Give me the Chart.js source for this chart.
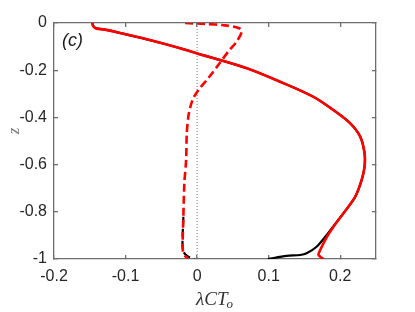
<!DOCTYPE html>
<html><head><meta charset="utf-8">
<script src="https://cdn.jsdelivr.net/npm/chart.js@4"></script>
<style>html,body{margin:0;padding:0;background:#fff}#w{width:415px;height:312px;position:relative}</style>
</head><body><div id="w"><canvas id="c"></canvas></div>
<script>
// ---- data ----
const xTicks = [-0.2, -0.1, 0, 0.1, 0.2];
const xTickLabels = ['-0.2', '-0.1', '0', '0.1', '0.2'];
const yTicks = [0, -0.2, -0.4, -0.6, -0.8, -1];
const yTickLabels = ['0', '-0.2', '-0.4', '-0.6', '-0.8', '-1'];

// solid red curve
const zRedSolid = [0, -0.014, -0.023, -0.028, -0.047, -0.067, -0.089, -0.113, -0.131, -0.148, -0.192, -0.249, -0.312, -0.369, -0.425, -0.482, -0.552, -0.609, -0.665, -0.736, -0.806, -0.863, -0.906, -0.962, -0.983, -1.0];
const xRedSolid = [-0.1465, -0.145, -0.141, -0.129, -0.101, -0.073, -0.045, -0.017, 0.002, 0.022, 0.0695, 0.116, 0.162, 0.1906, 0.214, 0.228, 0.234, 0.234, 0.230, 0.221, 0.2046, 0.1906, 0.1814, 0.172, 0.1697, 0.1766];

// solid black curve
const zBlackSolid = [0, -0.014, -0.023, -0.028, -0.047, -0.067, -0.089, -0.113, -0.131, -0.148, -0.192, -0.249, -0.312, -0.369, -0.425, -0.482, -0.552, -0.609, -0.665, -0.736, -0.806, -0.863, -0.906, -0.948, -0.976, -0.983, -0.987, -1.0];
const xBlackSolid = [-0.1465, -0.145, -0.141, -0.129, -0.101, -0.073, -0.045, -0.017, 0.002, 0.022, 0.0695, 0.116, 0.162, 0.1906, 0.214, 0.228, 0.234, 0.234, 0.230, 0.221, 0.2046, 0.1900, 0.179, 0.167, 0.153, 0.144, 0.125, 0.099];

// dashed red curve
const zRedDash = [0, -0.004, -0.010, -0.021, -0.035, -0.078, -0.120, -0.177, -0.233, -0.275, -0.318, -0.360, -0.395, -0.466, -0.581, -0.678, -0.821, -0.962, -0.987, -0.996];
const xRedDash = [-0.0168, 0.0112, 0.039, 0.0578, 0.0625, 0.0555, 0.0438, 0.0298, 0.0158, 0.0042, -0.0052, -0.0098, -0.0122, -0.0144, -0.0154, -0.0178, -0.0192, -0.0200, -0.0168, -0.0126];

// dashed black curve (mostly hidden under the red one)
const zBlackDash = [-0.821, -0.962, -0.987, -1.0];
const xBlackDash = [-0.0192, -0.0200, -0.0140, -0.0040];

// zero reference line
const zZero = [0, -1];
const xZero = [0, 0];

const pts = (xs, zs) => xs.map((x, i) => ({x: x, y: zs[i]}));

const TICK_FONT = '"Liberation Sans", Arial, sans-serif';
const AXIS = '#6e6e6e';

const labels = {
  id: 'axisLabels',
  afterDraw(chart) {
    const ctx = chart.ctx, a = chart.chartArea;
    ctx.save();
    // panel label
    ctx.fillStyle = '#1a1a1a';
    ctx.font = 'italic 18px "Liberation Sans", Arial, sans-serif';
    ctx.textBaseline = 'alphabetic';
    ctx.textAlign = 'left';
    ctx.fillText('(c)', a.left + 8, a.top + 23);

    // x axis title  λCT_o
    const cx = (a.left + a.right) / 2;
    const mainFont = 'italic 19px "Liberation Serif", "DejaVu Serif", serif';
    const subFont = 'italic 13px "Liberation Serif", "DejaVu Serif", serif';
    ctx.font = mainFont;
    const w1 = ctx.measureText('λCT').width;
    ctx.font = subFont;
    const w2 = ctx.measureText('o').width;
    const x0 = cx - (w1 + w2) / 2;
    ctx.fillStyle = '#333';
    ctx.font = mainFont;
    ctx.fillText('λCT', x0, a.bottom + 46);
    ctx.font = subFont;
    ctx.fillText('o', x0 + w1 - 1, a.bottom + 48.5);

    // y axis title z
    ctx.translate(19, a.top + 108);
    ctx.rotate(-Math.PI / 2);
    ctx.font = 'italic 17px "Liberation Serif", "DejaVu Serif", serif';
    ctx.fillStyle = '#777';
    ctx.textAlign = 'center';
    ctx.fillText('z', 0, 0);
    ctx.restore();
  }
};

const gridOpts = {display: true, drawOnChartArea: false, drawTicks: true, tickLength: -4, color: AXIS, lineWidth: 1.3};
const borderOpts = {display: true, color: AXIS, width: 1.3};
const fixX = s => { s.ticks = xTicks.map(v => ({value: v})); };
const fixY = s => { s.ticks = yTicks.map(v => ({value: v})); };

new Chart(document.getElementById('c'), {
  type: 'scatter',
  data: {
    datasets: [
      {data: pts(xRedSolid, zRedSolid), showLine: true, borderColor: '#ff0000', borderWidth: 2.6, pointRadius: 0, tension: 0.3, order: 0},
      {data: pts(xRedDash, zRedDash), showLine: true, borderColor: '#ff0000', borderWidth: 2.6, borderDash: [8, 4], pointRadius: 0, tension: 0.3, order: 1},
      {data: pts(xBlackSolid, zBlackSolid), showLine: true, borderColor: '#000000', borderWidth: 2.2, pointRadius: 0, tension: 0.3, order: 2},
      {data: pts(xBlackDash, zBlackDash), showLine: true, borderColor: '#000000', borderWidth: 2.2, borderDash: [8, 4], pointRadius: 0, tension: 0.3, order: 3},
      {data: pts(xZero, zZero), showLine: true, borderColor: '#777777', borderWidth: 1, borderDash: [1, 2], pointRadius: 0, order: 4}
    ]
  },
  options: {
    responsive: true,
    maintainAspectRatio: false,
    animation: false,
    events: [],
    layout: {padding: {left: 0, right: 39, top: 23, bottom: 0}},
    plugins: {legend: {display: false}, tooltip: {enabled: false}},
    scales: {
      x: {
        type: 'linear', position: 'bottom', min: -0.2, max: 0.25,
        afterBuildTicks: fixX,
        afterFit: s => { s.height = 53; },
        grid: gridOpts,
        border: borderOpts,
        ticks: {
          padding: 12, color: '#262626', maxRotation: 0, autoSkip: false,
          font: {family: TICK_FONT, size: 16},
          callback: v => { const i = xTicks.findIndex(t => Math.abs(t - v) < 1e-9); return i >= 0 ? xTickLabels[i] : ''; }
        }
      },
      x2: {
        type: 'linear', position: 'top', min: -0.2, max: 0.25,
        afterBuildTicks: fixX,
        afterFit: s => { s.height = 0; },
        grid: gridOpts,
        border: borderOpts,
        ticks: {display: false}
      },
      y: {
        type: 'linear', position: 'left', min: -1, max: 0,
        afterBuildTicks: fixY,
        afterFit: s => { s.width = 54; },
        grid: gridOpts,
        border: borderOpts,
        ticks: {
          padding: 11, color: '#262626', autoSkip: false,
          font: {family: TICK_FONT, size: 16},
          callback: v => { const i = yTicks.findIndex(t => Math.abs(t - v) < 1e-9); return i >= 0 ? yTickLabels[i] : ''; }
        }
      },
      y2: {
        type: 'linear', position: 'right', min: -1, max: 0,
        afterBuildTicks: fixY,
        afterFit: s => { s.width = 0; },
        grid: gridOpts,
        border: borderOpts,
        ticks: {display: false}
      }
    }
  },
  plugins: [labels]
});
</script>
</body></html>
